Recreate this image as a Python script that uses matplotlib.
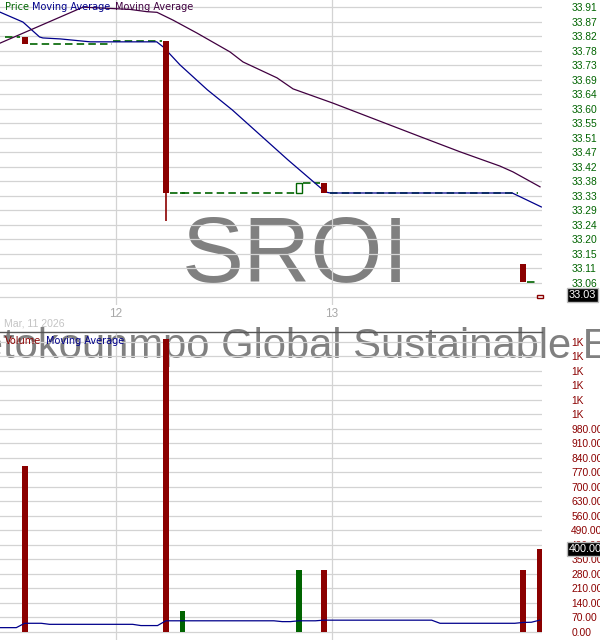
import matplotlib
matplotlib.use("Agg")
import matplotlib.pyplot as plt

# ---------------- data ----------------
ticker = "SROI"
fund_name = "Calamos Antetokounmpo Global Sustainable Equities ETF"
date_label = "Mar, 11 2026"
day_ticks = [0, 26]           # 15-minute slots, 26 per session
day_labels = ["12", "13"]

cand_slot = [-11, 6, 8, 22, 25, 49, 51]
cand_open = [33.82, 33.81, 33.34, 33.34, 33.37, 33.12, 33.016]
cand_high = [33.82, 33.81, 33.34, 33.37, 33.37, 33.12, 33.025]
cand_low = [33.80, 33.255, 33.34, 33.34, 33.34, 33.065, 33.016]
cand_close = [33.80, 33.34, 33.34, 33.37, 33.34, 33.065, 33.025]
cand_up = [False, False, True, True, False, False, False]
volume = [800, 1410, 100, 300, 300, 300, 400]

# last-price (dashed) segments between trades
lp_x0 = [-13.36, -10.35, -0.36, 6.5, 22.5, 25.76, 49.5]
lp_x1 = [-11.56, -0.48, 5.54, 21.55, 24.55, 48.4, 50.4]
lp_y = [33.82, 33.80, 33.81, 33.34, 33.37, 33.34, 33.065]

ma_fast_x = [-14, -11.2, -9.2, -8.8, -6.7, -3.1, 4.9, 5.7, 7.7, 11.0, 14.0,
             20.7, 25.2, 25.8, 47.7, 51.2]
ma_fast_y = [33.898, 33.867, 33.821, 33.818, 33.815, 33.806, 33.806, 33.790,
             33.735, 33.658, 33.596, 33.442, 33.343, 33.340, 33.340, 33.297]
ma_slow_x = [-13.96, -3.97, 1.69, 3.73, 4.94, 6.86, 9.75, 13.72, 15.29, 19.38,
             21.31, 26.12, 36.59, 41.41, 43.81, 46.22, 47.79, 51.04]
ma_slow_y = [33.802, 33.913, 33.906, 33.899, 33.897, 33.873, 33.833, 33.775,
             33.744, 33.695, 33.661, 33.617, 33.514, 33.467, 33.445, 33.423,
             33.405, 33.359]
vol_ma_x = [-14, -12, -11, -9, -8, 2, 3, 5, 6, 19, 20, 21, 22, 24, 25, 38, 39,
            48, 49, 50, 51]
vol_ma_y = [21, 21, 42, 42, 37, 37, 31, 31, 54, 54, 50, 50, 54, 54, 57, 57, 42,
            42, 46, 47, 57]

price_tick_labels = ["33.91", "33.87", "33.82", "33.78", "33.73", "33.69",
                     "33.64", "33.60", "33.55", "33.51", "33.47", "33.42",
                     "33.38", "33.33", "33.29", "33.24", "33.20", "33.15",
                     "33.11", "33.06", ""]
price_tick_top = 33.9125
price_tick_step = 0.0447
vol_tick_labels = ["0.00", "70.00", "140.00", "210.00", "280.00", "350.00",
                   "420.00", "490.00", "560.00", "630.00", "700.00", "770.00",
                   "840.00", "910.00", "980.00", "1K", "1K", "1K", "1K", "1K",
                   "1K"]
vol_tick_step = 70
last_price_label = "33.03"
last_volume_label = "400.00"

# ---------------- styling ----------------
RED = "#8b0000"
GREEN = "#006400"
BLUE = "#00008b"
PURPLE = "#400040"
GRID = "#d3d3d3"
LAB = "Liberation Sans"
LEG = "DejaVu Sans"

W, H = 600, 640
fig = plt.figure(figsize=(W / 100, H / 100), dpi=100)
fig.patch.set_facecolor("white")

ax1 = fig.add_axes([0, 1 - 305 / H, 542 / W, 305 / H])
ax2 = fig.add_axes([0, 0, 542 / W, 308 / H])
for ax in (ax1, ax2):
    ax.set_facecolor("none")
    for s in ax.spines.values():
        s.set_visible(False)
    ax.set_xlim(-13.963, 51.278)
    ax.set_axisbelow(True)
    ax.tick_params(length=0)
ax2.spines["top"].set_visible(True)
ax2.spines["top"].set_color("#555555")
ax2.spines["top"].set_linewidth(1.0)

# ---- price panel ----
ax1.set_ylim(32.9947, 33.935)
pt = [price_tick_top - price_tick_step * k for k in range(len(price_tick_labels))]
ax1.set_yticks(pt)
ax1.set_yticklabels(price_tick_labels)
ax1.yaxis.tick_right()
ax1.tick_params(axis="y", pad=21, labelsize=7.4, labelcolor=GREEN)
for t in ax1.get_yticklabels():
    t.set_fontfamily(LAB)
ax1.set_xticks(day_ticks)
ax1.set_xticklabels(day_labels)
ax1.tick_params(axis="x", pad=2, labelsize=8.5, labelcolor="#a8a8a8")
for t in ax1.get_xticklabels():
    t.set_fontfamily(LAB)
ax1.grid(True, color=GRID, linewidth=0.9)

fig.text(296 / W, 1 - 282 / H, ticker, ha="center", va="baseline",
         fontsize=67, color="#808080", family=LAB, zorder=-1)

for x0, x1, y in zip(lp_x0, lp_x1, lp_y):
    ax1.plot([x0, x1], [y, y], color=GREEN, lw=1.2, dashes=(4.5, 2.5), zorder=2)

ax1.plot(ma_fast_x, ma_fast_y, color=BLUE, lw=0.9, zorder=3)
ax1.plot(ma_slow_x, ma_slow_y, color=PURPLE, lw=0.9, zorder=3)

bw = 0.7
for x, o, h, l, c, up in zip(cand_slot, cand_open, cand_high, cand_low,
                             cand_close, cand_up):
    col = GREEN if up else RED
    ax1.vlines(x, l, h, color=col, lw=1.2, zorder=4)
    if c == o:
        ax1.hlines(c, x - bw / 2, x + bw / 2, color=col, lw=1.2, zorder=4)
    elif c > o:
        ax1.bar(x, c - o, bottom=o, width=bw, facecolor="white", edgecolor=col,
                linewidth=1.0, zorder=5, clip_on=False)
    else:
        ax1.bar(x, o - c, bottom=c, width=bw, color=col, zorder=5)

ytr = ax1.get_yaxis_transform()
ax1.text(569 / 542, cand_close[-1], last_price_label, transform=ytr,
         ha="left", va="center", fontsize=7.8, color="white", family=LAB,
         bbox=dict(boxstyle="square,pad=0.18", fc="black", ec="#bbbbbb", lw=1),
         clip_on=False, zorder=10)

fig.text(5 / W, 1 - 7 / H, "Price", color=GREEN, fontsize=7, family=LEG,
         ha="left", va="center")
fig.text(32 / W, 1 - 7 / H, "Moving Average", color=BLUE, fontsize=7,
         family=LEG, ha="left", va="center")
fig.text(115 / W, 1 - 7 / H, "Moving Average", color=PURPLE, fontsize=7,
         family=LEG, ha="left", va="center")

# ---- volume panel ----
ax2.set_ylim(-38.55, 1445.8)
vt = [vol_tick_step * k for k in range(len(vol_tick_labels))]
ax2.set_yticks(vt)
ax2.set_yticklabels(vol_tick_labels)
ax2.yaxis.tick_right()
ax2.tick_params(axis="y", pad=21, labelsize=7.4, labelcolor=RED)
for t in ax2.get_yticklabels():
    t.set_fontfamily(LAB)
ax2.set_xticks(day_ticks)
ax2.set_xticklabels([])
ax2.grid(True, color=GRID, linewidth=0.9)

fig.text(282 / W, 1 - 358 / H, fund_name, ha="center", va="baseline",
         fontsize=30.1, color="#808080", family=LAB, zorder=-1)

vcols = [GREEN if u else RED for u in cand_up]
ax2.bar(cand_slot, volume, width=bw, color=vcols, zorder=3)
ax2.plot(vol_ma_x, vol_ma_y, color=BLUE, lw=0.9, zorder=4)

ytr2 = ax2.get_yaxis_transform()
ax2.text(569 / 542, volume[-1], last_volume_label, transform=ytr2,
         ha="left", va="center", fontsize=7.8, color="white", family=LAB,
         bbox=dict(boxstyle="square,pad=0.18", fc="black", ec="#bbbbbb", lw=1),
         clip_on=False, zorder=10)

fig.text(4 / W, 1 - 324 / H, date_label, color="#c4c4c4", fontsize=7.6,
         family=LAB, ha="left", va="center")
fig.text(5 / W, 1 - 341 / H, "Volume", color=RED, fontsize=7, family=LEG,
         ha="left", va="center")
fig.text(46 / W, 1 - 341 / H, "Moving Average", color=BLUE, fontsize=7,
         family=LEG, ha="left", va="center")

fig.savefig("out.png", dpi=100, facecolor="white")
